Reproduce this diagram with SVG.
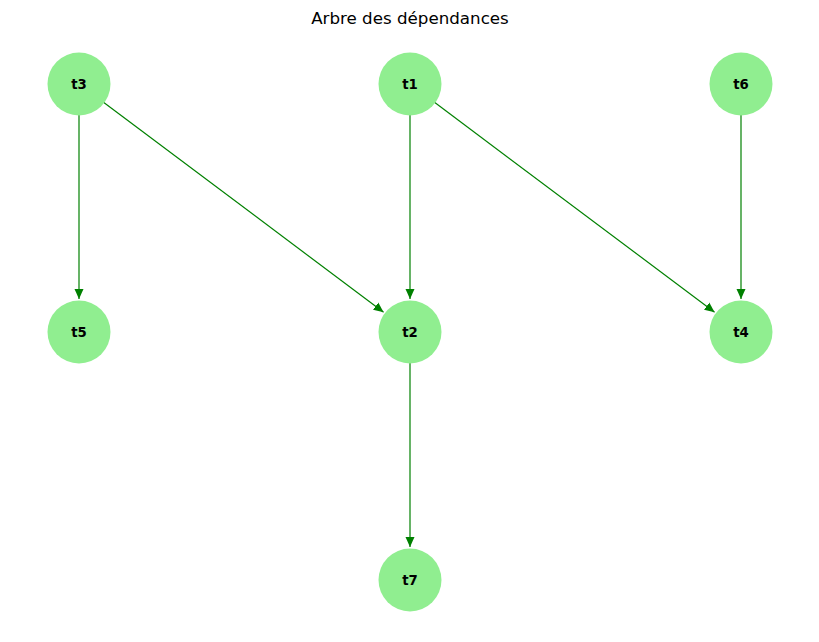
<svg xmlns="http://www.w3.org/2000/svg" width="819" height="642" viewBox="0 0 819 642">
<style>
.node circle{fill:#90ee90;}
.node text{font-family:"DejaVu Sans",sans-serif;font-size:13.3px;font-weight:bold;fill:#000;text-anchor:middle;dominant-baseline:central;}
.edges line{stroke:#008000;stroke-width:1.2;marker-end:url(#arr);}
.title{font-family:"DejaVu Sans",sans-serif;font-size:16.7px;fill:#000;text-anchor:middle;}
</style>
<defs>
<marker id="arr" markerUnits="userSpaceOnUse" markerWidth="10" markerHeight="10" refX="10" refY="4.5" orient="auto" viewBox="0 0 10 9">
<path d="M0,0 L10,4.5 L0,9 z" fill="#008000"/>
</marker>
</defs>
<rect width="819" height="642" fill="#fff"/>
<text class="title" x="410" y="24">Arbre des dépendances</text>
<g id="edges" class="edges">
<line x1="79" y1="115" x2="79" y2="299"/>
<line x1="103.8" y1="102.6" x2="383.6" y2="312.2"/>
<line x1="410" y1="115" x2="410" y2="299"/>
<line x1="434.8" y1="102.6" x2="714.6" y2="312.2"/>
<line x1="741" y1="115" x2="741" y2="299"/>
<line x1="410" y1="363" x2="410" y2="547"/>
</g>
<g id="t3" class="node"><circle cx="79" cy="84" r="31.5"/><text x="79" y="84">t3</text></g>
<g id="t1" class="node"><circle cx="410" cy="84" r="31.5"/><text x="410" y="84">t1</text></g>
<g id="t6" class="node"><circle cx="741" cy="84" r="31.5"/><text x="741" y="84">t6</text></g>
<g id="t5" class="node"><circle cx="79" cy="332" r="31.5"/><text x="79" y="332">t5</text></g>
<g id="t2" class="node"><circle cx="410" cy="332" r="31.5"/><text x="410" y="332">t2</text></g>
<g id="t4" class="node"><circle cx="741" cy="332" r="31.5"/><text x="741" y="332">t4</text></g>
<g id="t7" class="node"><circle cx="410" cy="580" r="31.5"/><text x="410" y="580">t7</text></g>
</svg>
